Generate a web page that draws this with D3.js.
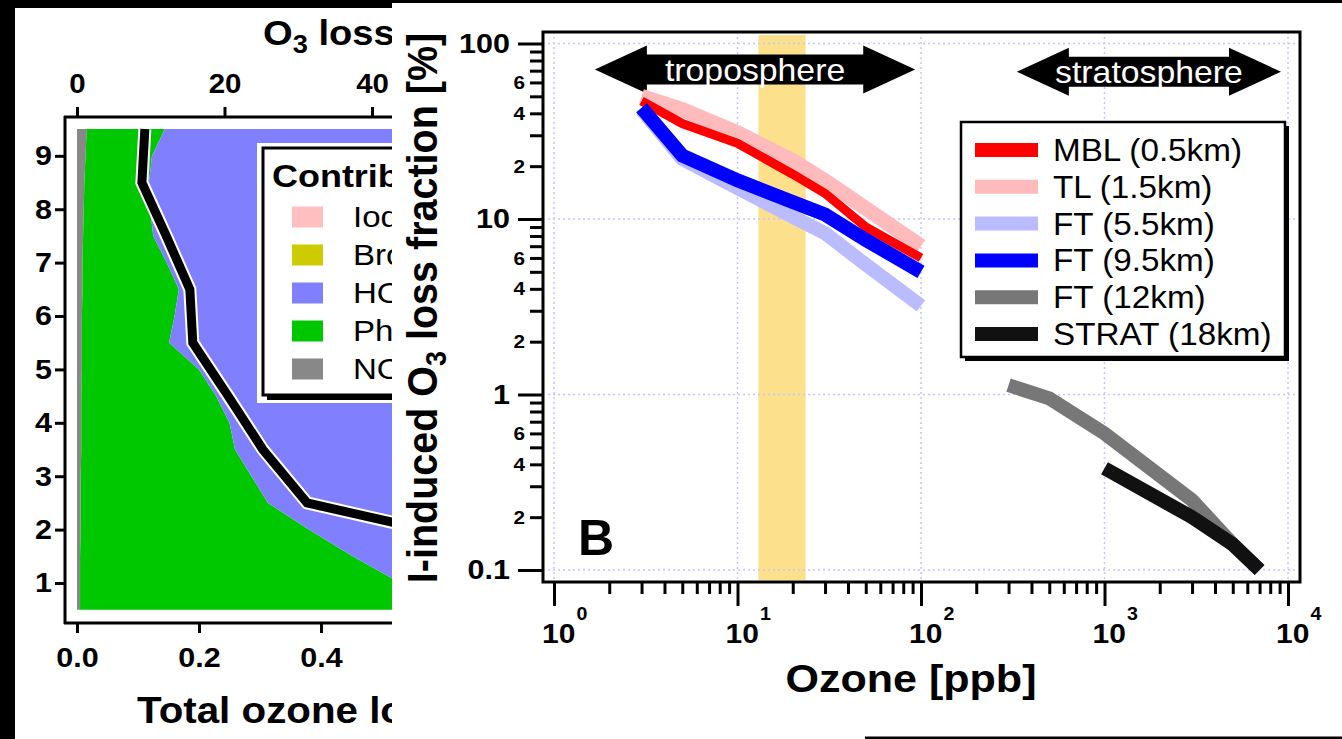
<!DOCTYPE html>
<html><head><meta charset="utf-8">
<script src="https://cdn.jsdelivr.net/npm/d3@7/dist/d3.min.js"></script>
<style>html,body{margin:0;padding:0;background:#000;}svg{display:block;}</style>
</head><body>
<svg id="c" width="1342" height="739"></svg>
<script>
// ---------- Panel A data (vertical profiles) ----------
const altitude = [9.5,9.0,8.5,8.0,7.5,7.0,6.5,6.0,5.5,5.0,4.5,4.0,3.5,3.0,2.5,2.0,1.5,1.0,0.5];
const noxLoss = [0.016,0.014,0.012,0.011,0.010,0.009,0.009,0.008,0.008,0.008,0.007,0.007,0.007,0.006,0.006,0.006,0.005,0.005,0.005];
const photolysisLoss = [0.128,0.109,0.106,0.109,0.115,0.138,0.158,0.152,0.143,0.192,0.221,0.243,0.252,0.280,0.307,0.374,0.447,0.525,0.615];
const hoxLoss = [0.62,0.60,0.58,0.56,0.55,0.54,0.52,0.50,0.48,0.46,0.44,0.42,0.40,0.37,0.34,0.30,0.26,0.22,0.18];
const bromineLoss = [0.05,0.05,0.05,0.05,0.05,0.05,0.05,0.05,0.05,0.05,0.05,0.05,0.05,0.05,0.05,0.05,0.05,0.05,0.05];
const iodineLoss = [0.12,0.12,0.12,0.12,0.12,0.12,0.12,0.12,0.12,0.12,0.12,0.12,0.12,0.12,0.12,0.12,0.12,0.12,0.12];
const fracAltitude = [9.5,8.5,7.5,6.5,5.5,4.5,3.5,2.5,1.5,0.5];
const fracLoss = [9.2,8.8,12.1,15.3,15.7,20.5,25.2,31.2,63,90];
const leftLegend = ["Iodine","Bromine","HOx","Photolysis","NOx"];
const altTicks = [1,2,3,4,5,6,7,8,9];
const bottomTicks = [0,0.2,0.4];
const topTicks = [0,20,40];

// ---------- Panel B data ----------
const ozoneTrop = [3,5,10,20,30,50,100];
const mbl  = [47,35,27,18,14,9,6];
const tl   = [50,42,31,21.5,16.5,11.5,7];
const ft55 = [42,22,15,10.3,8.3,5.5,3.2];
const ft95 = [43,23,16.6,12.5,10.6,7.6,5];
const ozoneFT12 = [300,500,1000,3000,5000,7000];
const ft12 = [1.13,0.95,0.6,0.25,0.14,0.1];
const ozoneStrat = [1000,3000,5000,7000];
const strat = [0.38,0.2,0.14,0.1];
const seriesNames = ["MBL (0.5km)","TL (1.5km)","FT (5.5km)","FT (9.5km)","FT (12km)","STRAT (18km)"];
const xMajor = [1,10,100,1000,10000];
const yMajor = [0.1,1,10,100];
const yMajorLabels = ["0.1","1","10","100"];
const bandRange = [13,23.5];
const tropoRange = [1.67,93];
const stratoRange = [333,9160];

const FONT = "'Liberation Sans', Arial, Helvetica, sans-serif";
const SX = 1.09;
const svg = d3.select("#c");

function txt(g, x, y, s, size, weight, anchor, fill, sx) {
  return g.append("text")
    .attr("transform", `translate(${x},${y}) scale(${sx==null?SX:sx},1)`)
    .attr("text-anchor", anchor||"start")
    .attr("font-family", FONT)
    .attr("font-size", size)
    .attr("font-weight", weight||"normal")
    .attr("fill", fill||"#000")
    .text(s);
}

svg.append("rect").attr("width",1342).attr("height",739).attr("fill","#000");

// ================= LEFT PANEL =================
const L = svg.append("g");
L.append("rect").attr("x",15).attr("y",8).attr("width",380).attr("height",731).attr("fill","#fff");

const yA = d3.scaleLinear().domain([0.251, 9.727]).range([623,117]);
const xB = d3.scaleLinear().domain([0,0.4]).range([77,321]);
const xT = d3.scaleLinear().domain([0,40]).range([77,372]);

const rows = altitude.map((a,i)=>({alt:a, nox:noxLoss[i], photolysis:photolysisLoss[i], hox:hoxLoss[i], bromine:bromineLoss[i], iodine:iodineLoss[i]}));
const keys = ["nox","photolysis","hox","bromine","iodine"];
const colors = {nox:"#888888", photolysis:"#00c800", hox:"#8080ff", bromine:"#cccc00", iodine:"#ffbfbf"};
const stacked = d3.stack().keys(keys)(rows);
const area = d3.area().curve(d3.curveLinear)
  .y(d=>yA(d.data.alt)).x0(d=>xB(d[0])).x1(d=>xB(d[1]));
L.append("clipPath").attr("id","clipA").append("rect").attr("x",66).attr("y",118).attr("width",326).attr("height",504);
const areaG = L.append("g").attr("clip-path","url(#clipA)");
stacked.forEach(s=>{
  areaG.append("path").attr("d", area(s)).attr("fill", colors[s.key]);
});
const fracLine = d3.line().x(d=>xT(d[1])).y(d=>yA(d[0]));
const fracPts = fracAltitude.map((a,i)=>[a, fracLoss[i]]);
areaG.append("path").attr("d",fracLine(fracPts)).attr("fill","none").attr("stroke","#fff").attr("stroke-width",13).attr("stroke-linejoin","miter");
areaG.append("path").attr("d",fracLine(fracPts)).attr("fill","none").attr("stroke","#000").attr("stroke-width",9).attr("stroke-linejoin","miter");

// left legend
L.append("rect").attr("x",257).attr("y",143).attr("width",200).attr("height",260).attr("fill","#fff");
L.append("rect").attr("x",267).attr("y",152).attr("width",200).attr("height",248).attr("fill","#000");
L.append("rect").attr("x",263).attr("y",148).attr("width",200).attr("height",247).attr("fill","#fff").attr("stroke","#000").attr("stroke-width",3);
txt(L, 272, 187, "Contributions", 31, "bold", "start", "#000", 1.16);
const legKeys = ["iodine","bromine","hox","photolysis","nox"];
leftLegend.forEach((name,i)=>{
  const cy = 217 + i*38;
  L.append("rect").attr("x",292).attr("y",cy-10.5).attr("width",31).attr("height",21).attr("fill",colors[legKeys[i]]);
  txt(L, 353, cy+10, name, 29, "normal", "start", "#000", 1.14);
});

// left axes
L.append("line").attr("x1",65).attr("x2",65).attr("y1",116).attr("y2",624).attr("stroke","#000").attr("stroke-width",3);
L.append("line").attr("x1",64).attr("x2",395).attr("y1",117).attr("y2",117).attr("stroke","#000").attr("stroke-width",3);
L.append("line").attr("x1",64).attr("x2",395).attr("y1",623).attr("y2",623).attr("stroke","#000").attr("stroke-width",3);

function styleAxis(g, size) {
  g.select(".domain").remove();
  g.selectAll(".tick line").attr("stroke","#000").attr("stroke-width",3);
  g.selectAll(".tick text").attr("font-family",FONT).attr("font-size",size).attr("font-weight","bold").attr("fill","#000")
    .each(function(){
      const t = d3.select(this);
      const xx = +t.attr("x") || 0;
      t.attr("x", xx/SX).attr("transform", `scale(${SX},1)`);
    });
}
const gl = L.append("g").attr("transform","translate(65,0)")
  .call(d3.axisLeft(yA).tickValues(altTicks).tickSize(10).tickPadding(3).tickFormat(d3.format("d")));
styleAxis(gl, 28);
const gb = L.append("g").attr("transform","translate(0,623)")
  .call(d3.axisBottom(xB).tickValues(bottomTicks).tickSize(10).tickPadding(14).tickFormat(d3.format(".1f")));
styleAxis(gb, 28);
const gt = L.append("g").attr("transform","translate(0,117)")
  .call(d3.axisTop(xT).tickValues(topTicks).tickSize(10).tickPadding(14).tickFormat(d3.format("d")));
styleAxis(gt, 27);

// left titles
const t1 = L.append("text").attr("transform",`translate(263,45) scale(${SX},1)`)
  .attr("font-family",FONT).attr("font-size",35).attr("font-weight","bold");
t1.append("tspan").text("O");
t1.append("tspan").attr("font-size",25).attr("dy",8).text("3");
t1.append("tspan").attr("dy",-8).text(" loss [%]");
txt(L, 137, 723, "Total ozone loss [ppbv/day]", 37, "bold");

// ================= RIGHT PANEL =================
const R = svg.append("g");
R.append("rect").attr("x",392).attr("y",3).attr("width",950).attr("height",736).attr("fill","#fff");
R.append("rect").attr("x",865).attr("y",736.5).attr("width",477).attr("height",2.5).attr("fill","#000");

const PL=543, PR=1300, PT=32, PB=582;
const x = d3.scaleLog().domain([1,1e4]).range([554,1288]);
const y = d3.scaleLog().domain([0.1,100]).range([570,43.5]);

R.append("clipPath").attr("id","clipB").append("rect").attr("x",PL+1.5).attr("y",PT+1.5).attr("width",PR-PL-3).attr("height",PB-PT-3);
const plot = R.append("g").attr("clip-path","url(#clipB)");

// yellow band
plot.append("rect").attr("x",x(bandRange[0])).attr("width",x(bandRange[1])-x(bandRange[0]))
  .attr("y",PT+3).attr("height",PB-PT-5).attr("fill","#fde08c");

// grid
xMajor.forEach(v=>{
  plot.append("line").attr("x1",x(v)).attr("x2",x(v)).attr("y1",PT).attr("y2",PB)
    .attr("stroke","#c4c4ff").attr("stroke-width",1.5).attr("stroke-dasharray","2,3");
});
yMajor.forEach(v=>{
  plot.append("line").attr("x1",PL).attr("x2",PR).attr("y1",y(v)).attr("y2",y(v))
    .attr("stroke","#c4c4ff").attr("stroke-width",1.5).attr("stroke-dasharray","2,3");
});

// arrows
function dblArrow(range, cyVal, label, baselineOff) {
  const x0 = x(range[0]), x1 = x(range[1]), cy = y(cyVal);
  const hl = 52, hh = 24, sh = 15;
  const pts = [[x0,cy],[x0+hl,cy-hh],[x0+hl,cy-sh],[x1-hl,cy-sh],[x1-hl,cy-hh],[x1,cy],[x1-hl,cy+hh],[x1-hl,cy+sh],[x0+hl,cy+sh],[x0+hl,cy+hh]];
  plot.append("polygon").attr("points", pts.map(p=>p.join(",")).join(" ")).attr("fill","#000");
  txt(plot, (x0+x1)/2, cy+baselineOff, label, 31, "normal", "middle", "#fff");
}
dblArrow(tropoRange, 71, "troposphere", 11);
dblArrow(stratoRange, 69, "stratosphere", 11);

// lines
const line = d3.line().x(d=>x(d[0])).y(d=>y(d[1]));
const series = [
  {name:seriesNames[1], xs:ozoneTrop, ys:tl, color:"#ffbbbb", w:15},
  {name:seriesNames[0], xs:ozoneTrop, ys:mbl, color:"#ff0000", w:9},
  {name:seriesNames[2], xs:ozoneTrop, ys:ft55, color:"#bbbbff", w:14},
  {name:seriesNames[3], xs:ozoneTrop, ys:ft95, color:"#0000ff", w:14},
  {name:seriesNames[4], xs:ozoneFT12, ys:ft12, color:"#777777", w:14},
  {name:seriesNames[5], xs:ozoneStrat, ys:strat, color:"#111111", w:14}
];
series.forEach(s=>{
  plot.append("path").attr("d", line(s.xs.map((v,i)=>[v,s.ys[i]])))
    .attr("fill","none").attr("stroke",s.color).attr("stroke-width",s.w)
    .attr("stroke-linejoin","miter").attr("stroke-linecap","butt");
});

// "B"
txt(R, 578, 555, "B", 50, "bold", "start", "#000", 1);

// frame
R.append("rect").attr("x",PL).attr("y",PT).attr("width",PR-PL).attr("height",PB-PT)
  .attr("fill","none").attr("stroke","#000").attr("stroke-width",3);

// y axis
const yMinor = [];
[0.1,1,10].forEach(d=>{ for(let k=2;k<=9;k++) yMinor.push(+(k*d).toPrecision(3)); });
const gyM = R.append("g").attr("transform",`translate(${PL},0)`)
  .call(d3.axisLeft(y).tickValues(yMajor).tickSize(25).tickPadding(8).tickFormat((d,i)=>yMajorLabels[i]));
styleAxis(gyM, 28);
const gym = R.append("g").attr("transform",`translate(${PL},0)`)
  .call(d3.axisLeft(y).tickValues(yMinor).tickSize(13).tickPadding(5)
    .tickFormat(d=>{ const k = Math.round(d/Math.pow(10,Math.floor(Math.log10(d)+1e-9))); return (k===2||k===4||k===6)?String(k):""; }));
styleAxis(gym, 19);

// x axis
const xMinor = [];
[1,10,100,1000].forEach(d=>{ for(let k=2;k<=9;k++) xMinor.push(k*d); });
const gxM = R.append("g").attr("transform",`translate(0,${PB})`)
  .call(d3.axisBottom(x).tickValues(xMajor).tickSize(24).tickFormat(""));
styleAxis(gxM, 10);
const gxm = R.append("g").attr("transform",`translate(0,${PB})`)
  .call(d3.axisBottom(x).tickValues(xMinor).tickSize(12).tickFormat(""));
styleAxis(gxm, 10);
xMajor.forEach(v=>{
  const e = Math.round(Math.log10(v));
  const t = R.append("text").attr("transform",`translate(${x(v)-12},643) scale(${SX},1)`)
    .attr("font-family",FONT).attr("font-weight","bold").attr("font-size",27.5);
  t.append("tspan").text("10");
  t.append("tspan").attr("font-size",18).attr("dx",1).attr("dy",-23).text(String(e));
});

// titles
txt(R, 911, 692, "Ozone [ppb]", 39.5, "bold", "middle");
const yt = R.append("text").attr("transform",`translate(437,308) rotate(-90) scale(1,${SX})`)
  .attr("text-anchor","middle").attr("font-family",FONT).attr("font-size",39.5).attr("font-weight","bold");
yt.append("tspan").text("I-induced O");
yt.append("tspan").attr("font-size",27).attr("dy",8).text("3");
yt.append("tspan").attr("dy",-8).text(" loss fraction [%]");

// right legend
R.append("rect").attr("x",965).attr("y",126).attr("width",324).attr("height",235).attr("fill","#000");
R.append("rect").attr("x",961).attr("y",122).attr("width",324).attr("height",235).attr("fill","#fff").attr("stroke","#000").attr("stroke-width",2.5);
const legendOrder = [
  {name:seriesNames[0], color:"#ff0000"},
  {name:seriesNames[1], color:"#ffbbbb"},
  {name:seriesNames[2], color:"#bbbbff"},
  {name:seriesNames[3], color:"#0000ff"},
  {name:seriesNames[4], color:"#777777"},
  {name:seriesNames[5], color:"#111111"}
];
legendOrder.forEach((s,i)=>{
  const cy = 150 + i*36.8;
  R.append("line").attr("x1",975).attr("x2",1038).attr("y1",cy).attr("y2",cy).attr("stroke",s.color).attr("stroke-width",14);
  txt(R, 1053, cy+11, s.name, 30.5, "normal");
});
</script>
</body></html>
